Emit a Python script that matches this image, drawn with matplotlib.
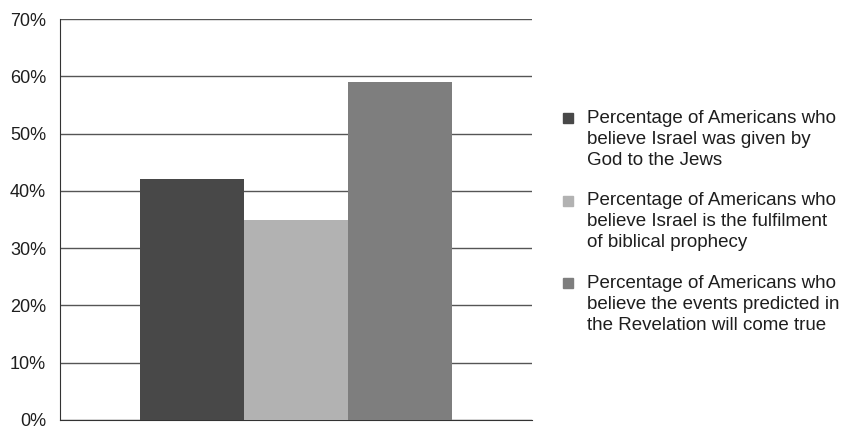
import matplotlib.pyplot as plt
from matplotlib.lines import Line2D

plt.rcParams['font.family'] = ['Liberation Sans', 'DejaVu Sans']

labels = ['Percentage of Americans who\nbelieve Israel was given by\nGod to the Jews',
          'Percentage of Americans who\nbelieve Israel is the fulfilment\nof biblical prophecy',
          'Percentage of Americans who\nbelieve the events predicted in\nthe Revelation will come true']
values = [42, 35, 59]
colors = ['#484848', '#b2b2b2', '#7e7e7e']
yticks = [0, 10, 20, 30, 40, 50, 60, 70]

W, H = 842, 429
fig = plt.figure(figsize=(W / 100, H / 100), dpi=100)
ax = fig.add_axes([60 / W, 9 / H, 472 / W, 401 / H])

ax.bar(range(3), values, width=1.0, color=colors, zorder=3)
ax.set_xlim(-1.27, 3.27)
ax.set_ylim(0, 70)
ax.set_yticks(yticks)
ax.set_yticklabels([f'{v}%' for v in yticks], fontsize=13, color='#1e1e1e')
ax.set_xticks([])
ax.tick_params(axis='y', length=0, pad=10)
ax.grid(axis='y', color='#555555', linewidth=1.0, zorder=0)
for s in ['top', 'right']:
    ax.spines[s].set_visible(False)
ax.spines['left'].set_color('#333333')
ax.spines['bottom'].set_color('#333333')

# legend drawn by hand so the marker sits on the first text line
for i, (lab, c) in enumerate(zip(labels, colors)):
    ytop = 110 + i * 82.5
    fig.text(587 / W, 1 - ytop / H, lab, fontsize=13.5, color='#1e1e1e',
             va='top', ha='left', linespacing=1.3)
    fig.add_artist(Line2D([568 / W], [1 - (ytop + 8) / H], marker='s', markersize=6.5,
                          linestyle='', color=c, transform=fig.transFigure))

fig.savefig('out.png', dpi=100)
